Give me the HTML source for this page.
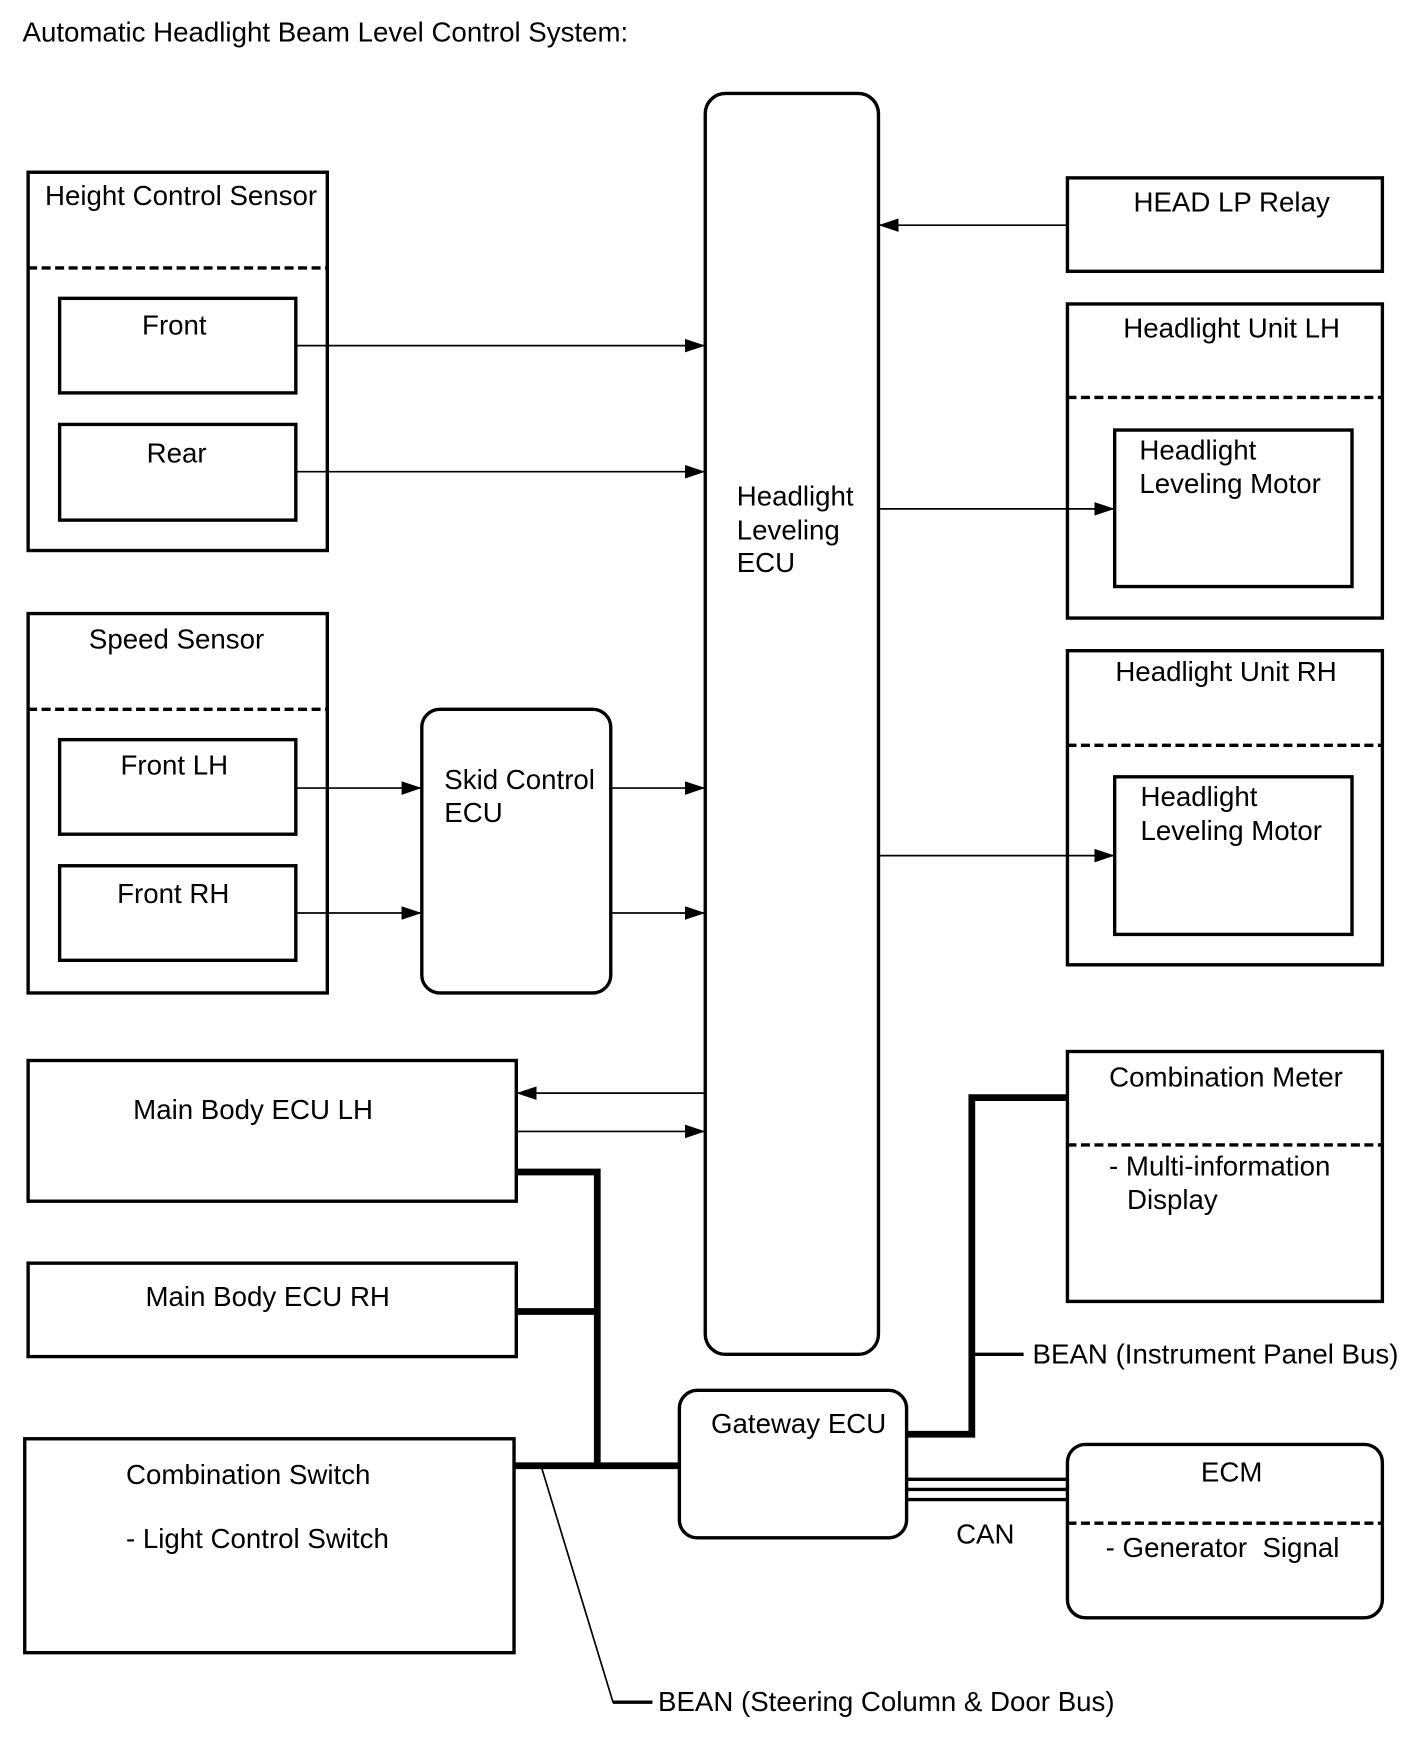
<!DOCTYPE html>
<html><head><meta charset="utf-8"><style>
html,body{margin:0;padding:0;background:#fff;}
svg{display:block;}
text{font-family:"Liberation Sans",Arial,sans-serif;font-size:24.6px;fill:#000;}
</style></head><body>
<svg width="1424" height="1763" viewBox="0 0 1266 1566" preserveAspectRatio="none" xmlns="http://www.w3.org/2000/svg">
<defs>
<marker id="a" markerWidth="18" markerHeight="12" refX="18" refY="6" orient="auto" markerUnits="userSpaceOnUse">
<path d="M0,0 L18,6 L0,12 Z" fill="#000"/></marker>
</defs>
<text x="20" y="37">Automatic Headlight Beam Level Control System:</text>
<g fill="none" stroke="#000" stroke-width="3">
<rect x="627" y="83" width="154" height="1120" rx="18"/>
<rect x="25" y="153" width="266" height="336"/>
<rect x="53" y="265" width="210" height="84"/>
<rect x="53" y="377" width="210" height="85"/>
<rect x="25" y="545" width="266" height="337"/>
<rect x="53" y="657" width="210" height="84"/>
<rect x="53" y="769" width="210" height="84"/>
<rect x="375" y="630" width="168" height="252" rx="16"/>
<rect x="949" y="158" width="280" height="83"/>
<rect x="949" y="270" width="280" height="279"/>
<rect x="991" y="382" width="211" height="139"/>
<rect x="949" y="578" width="280" height="279"/>
<rect x="991" y="690" width="211" height="140"/>
<rect x="25" y="942" width="434" height="125"/>
<rect x="25" y="1122" width="434" height="83"/>
<rect x="22" y="1278" width="435" height="190"/>
<rect x="604" y="1235" width="202" height="131" rx="16"/>
<rect x="949" y="934" width="280" height="222"/>
<rect x="949" y="1283" width="280" height="154" rx="16"/>
</g>
<g stroke="#000" stroke-width="3" stroke-dasharray="8,4">
<line x1="25" y1="238" x2="291" y2="238"/>
<line x1="25" y1="630" x2="291" y2="630"/>
<line x1="949" y1="353" x2="1229" y2="353"/>
<line x1="949" y1="662" x2="1229" y2="662"/>
<line x1="949" y1="1017" x2="1229" y2="1017"/>
<line x1="949" y1="1353" x2="1229" y2="1353"/>
</g>
<g stroke="#000" stroke-width="1.5" marker-end="url(#a)">
<line x1="263" y1="307" x2="627" y2="307"/>
<line x1="263" y1="419" x2="627" y2="419"/>
<line x1="263" y1="700" x2="375" y2="700"/>
<line x1="263" y1="811" x2="375" y2="811"/>
<line x1="543" y1="700" x2="627" y2="700"/>
<line x1="543" y1="811" x2="627" y2="811"/>
<line x1="949" y1="200" x2="781" y2="200"/>
<line x1="781" y1="452" x2="991" y2="452"/>
<line x1="781" y1="760" x2="991" y2="760"/>
<line x1="627" y1="971" x2="459" y2="971"/>
<line x1="459" y1="1005" x2="627" y2="1005"/>
</g>
<g fill="none" stroke="#000" stroke-width="6">
<polyline points="459,1041 531,1041 531,1302"/>
<line x1="459" y1="1165" x2="531" y2="1165"/>
<line x1="457" y1="1302" x2="604" y2="1302"/>
<polyline points="806,1274 864,1274 864,975 949,975"/>
</g>
<g stroke="#000" stroke-width="3">
<line x1="806" y1="1314" x2="949" y2="1314"/>
<line x1="806" y1="1323" x2="949" y2="1323"/>
<line x1="806" y1="1332" x2="949" y2="1332"/>
<line x1="864" y1="1203" x2="910" y2="1203"/>
</g>
<polyline points="481,1302 545,1512 580,1512" fill="none" stroke="#000" stroke-width="1.5"/>
<line x1="545" y1="1512" x2="580" y2="1512" stroke="#000" stroke-width="3"/>
<text x="655" y="449">Headlight</text>
<text x="655" y="479">Leveling</text>
<text x="655" y="508">ECU</text>
<text x="40" y="182">Height Control Sensor</text>
<text x="155" y="297" text-anchor="middle">Front</text>
<text x="157" y="411" text-anchor="middle">Rear</text>
<text x="157" y="576" text-anchor="middle">Speed Sensor</text>
<text x="155" y="688" text-anchor="middle">Front LH</text>
<text x="154" y="802" text-anchor="middle">Front RH</text>
<text x="395" y="701">Skid Control</text>
<text x="395" y="730">ECU</text>
<text x="1095" y="188" text-anchor="middle">HEAD LP Relay</text>
<text x="1095" y="300" text-anchor="middle">Headlight Unit LH</text>
<text x="1013" y="408">Headlight</text>
<text x="1013" y="438">Leveling Motor</text>
<text x="1090" y="605" text-anchor="middle">Headlight Unit RH</text>
<text x="1014" y="716">Headlight</text>
<text x="1014" y="746">Leveling Motor</text>
<text x="225" y="994" text-anchor="middle">Main Body ECU LH</text>
<text x="238" y="1160" text-anchor="middle">Main Body ECU RH</text>
<text x="112" y="1318">Combination Switch</text>
<text x="112" y="1375">- Light Control Switch</text>
<text x="710" y="1273" text-anchor="middle">Gateway ECU</text>
<text x="1090" y="965" text-anchor="middle">Combination Meter</text>
<text x="986" y="1044">- Multi-information</text>
<text x="1002" y="1074">Display</text>
<text x="918" y="1211">BEAN (Instrument Panel Bus)</text>
<text x="850" y="1371">CAN</text>
<text x="1095" y="1316" text-anchor="middle">ECM</text>
<text x="983" y="1383" xml:space="preserve">- Generator  Signal</text>
<text x="585" y="1520">BEAN (Steering Column &amp; Door Bus)</text>
</svg>
</body></html>
